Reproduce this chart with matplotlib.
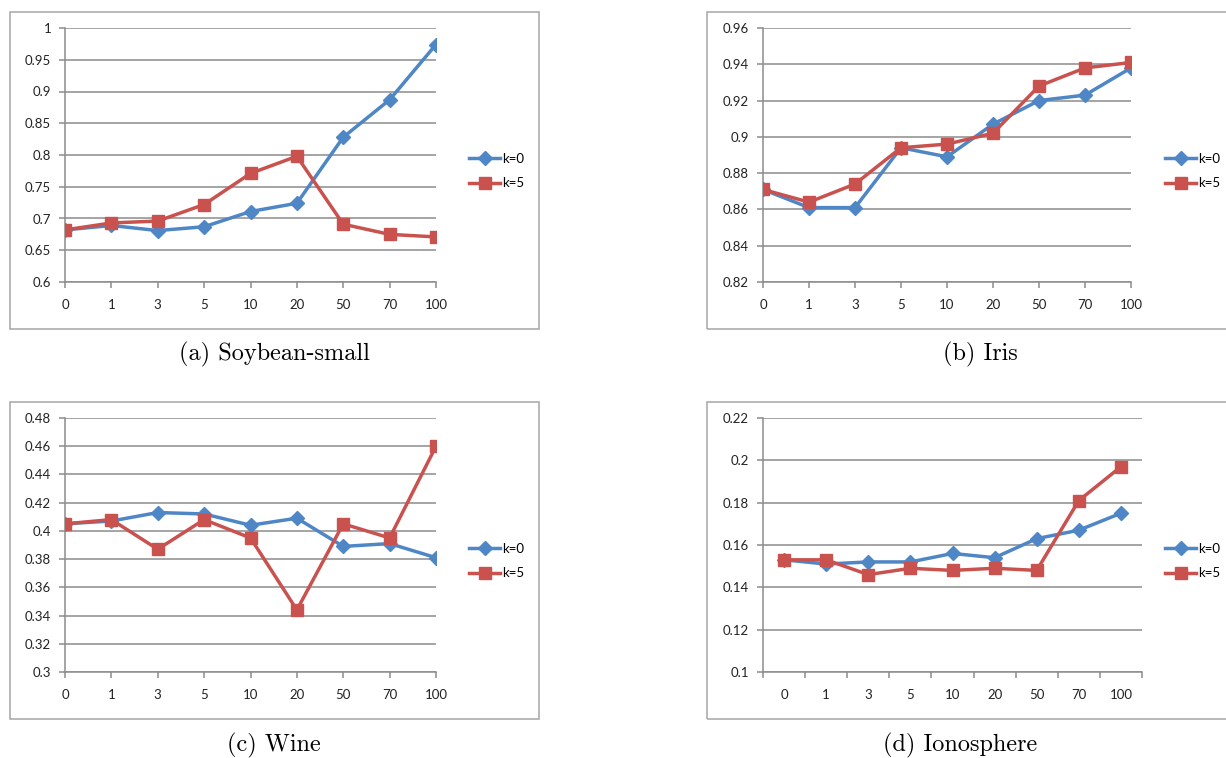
import numpy as np
import matplotlib
matplotlib.use("Agg")
import matplotlib.pyplot as plt
from matplotlib.patches import Rectangle
from matplotlib.ticker import FixedLocator, NullFormatter

x_labels = ["0", "1", "3", "5", "10", "20", "50", "70", "100"]

soy_k0 = [0.682, 0.689, 0.681, 0.687, 0.711, 0.724, 0.828, 0.887, 0.974]
soy_k5 = [0.682, 0.693, 0.696, 0.722, 0.771, 0.798, 0.691, 0.675, 0.671]
soy_yticks = [0.6, 0.65, 0.7, 0.75, 0.8, 0.85, 0.9, 0.95, 1.0]

iris_k0 = [0.871, 0.861, 0.861, 0.894, 0.889, 0.907, 0.920, 0.923, 0.938]
iris_k5 = [0.871, 0.864, 0.874, 0.894, 0.896, 0.902, 0.928, 0.938, 0.941]
iris_yticks = [0.82, 0.84, 0.86, 0.88, 0.90, 0.92, 0.94, 0.96]

wine_k0 = [0.405, 0.407, 0.413, 0.412, 0.404, 0.409, 0.389, 0.391, 0.381]
wine_k5 = [0.405, 0.408, 0.387, 0.408, 0.395, 0.344, 0.405, 0.395, 0.460]
wine_yticks = [0.30, 0.32, 0.34, 0.36, 0.38, 0.40, 0.42, 0.44, 0.46, 0.48]

iono_k0 = [0.153, 0.151, 0.152, 0.152, 0.156, 0.154, 0.163, 0.167, 0.175]
iono_k5 = [0.153, 0.153, 0.146, 0.149, 0.148, 0.149, 0.148, 0.181, 0.197]
iono_yticks = [0.10, 0.12, 0.14, 0.16, 0.18, 0.20, 0.22]

captions = ["(a) Soybean-small", "(b) Iris", "(c) Wine", "(d) Ionosphere"]
series_names = ["k=0", "k=5"]

BLUE = "#4F86C6"
RED = "#C9524F"
GRID = "#8c8c8c"
W, H = 1226, 758

plt.rcParams["font.family"] = ["Lato", "DejaVu Sans"]

fig = plt.figure(figsize=(W / 100, H / 100), dpi=100)


def fx(px):
    return px / W


def fy(py):
    return 1 - py / H


def panel(rect, k0, k5, yticks, between, frame, legend_xy, caption_xy, caption):
    x0, y0, x1, y1 = rect
    ax = fig.add_axes([fx(x0), fy(y1), fx(x1 - x0), (y1 - y0) / H])
    xs = np.arange(len(x_labels))
    ax.plot(xs, k0, color=BLUE, lw=2.5, marker="D", ms=7, label=series_names[0],
            zorder=3)
    ax.plot(xs, k5, color=RED, lw=2.5, marker="s", ms=8, label=series_names[1],
            zorder=3)
    ax.set_ylim(yticks[0], yticks[-1])
    ax.set_yticks(yticks)
    ax.set_yticklabels(["%g" % round(v, 4) for v in yticks])
    if between:
        ax.set_xlim(-0.5, len(x_labels) - 0.5)
        ax.xaxis.set_major_locator(FixedLocator(np.arange(-0.5, len(x_labels), 1.0)))
        ax.xaxis.set_major_formatter(NullFormatter())
        ax.set_xticks(xs, minor=True)
        ax.set_xticklabels(x_labels, minor=True)
        ax.tick_params(axis="x", which="minor", length=0, pad=12)
    else:
        ax.set_xlim(0, len(x_labels) - 1)
        ax.set_xticks(xs)
        ax.set_xticklabels(x_labels)
    ax.grid(axis="y", color=GRID, lw=1.1)
    ax.set_axisbelow(True)
    for s in ["top", "right"]:
        ax.spines[s].set_visible(False)
    for s in ["left", "bottom"]:
        ax.spines[s].set_color(GRID)
        ax.spines[s].set_linewidth(1.1)
    ax.tick_params(axis="both", which="major", length=4, color=GRID, width=1.1,
                   labelsize=9.5, labelcolor="#222222")
    ax.tick_params(axis="x", which="both", labelsize=9.5, labelcolor="#222222")
    ax.tick_params(axis="x", which="major", pad=8)
    ax.tick_params(axis="y", pad=6)
    ax.legend(loc="center left", bbox_to_anchor=(fx(legend_xy[0]), fy(legend_xy[1])),
              bbox_transform=fig.transFigure, frameon=False, fontsize=9.5,
              handlelength=2.35, handletextpad=0.15, labelspacing=0.95,
              borderpad=0, borderaxespad=0)
    fl, ft, fr, fb = frame
    fig.patches.append(Rectangle((fx(fl), fy(fb)), fx(fr - fl), (fb - ft) / H,
                                 transform=fig.transFigure, fill=False,
                                 edgecolor="#a6a6a6", lw=1.1))
    fig.text(fx(caption_xy[0]), fy(caption_xy[1]), caption, ha="center", va="center",
             fontsize=17.5, family=["cmr10", "DejaVu Serif"])
    return ax


panel((65, 28, 436, 282), soy_k0, soy_k5, soy_yticks, False,
      (9.5, 12, 539, 329), (469, 171), (274, 354), captions[0])
panel((763, 28, 1131, 282), iris_k0, iris_k5, iris_yticks, False,
      (707, 12, 1240, 329), (1165, 171), (980, 354), captions[1])
panel((65, 418, 436, 672), wine_k0, wine_k5, wine_yticks, False,
      (9.5, 402, 539, 719), (469, 561), (274, 745), captions[2])
panel((763, 418, 1142, 672), iono_k0, iono_k5, iono_yticks, True,
      (707, 402, 1240, 719), (1165, 561), (960, 745), captions[3])

fig.savefig("out.png", dpi=100)
